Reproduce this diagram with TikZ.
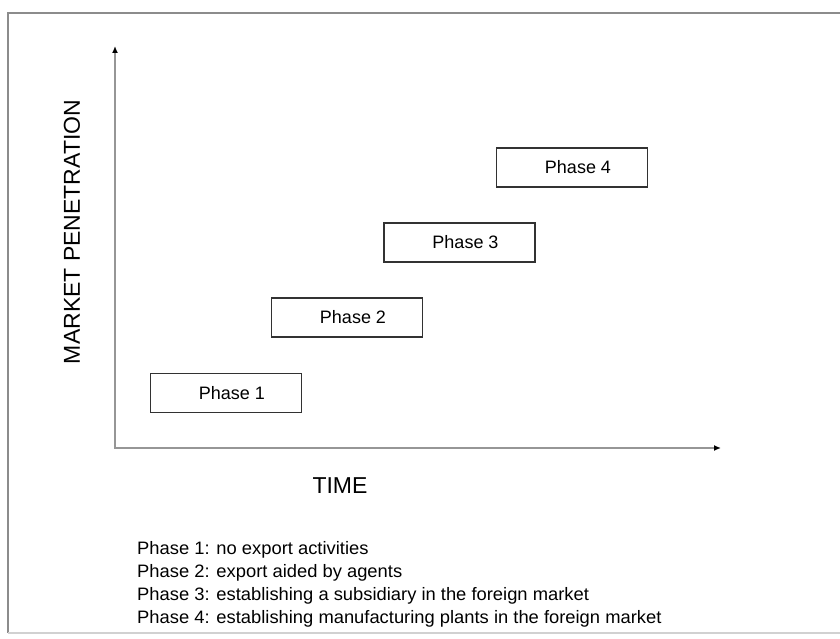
\documentclass[tikz,border=0pt]{standalone}
\usepackage{fontspec}
\setmainfont{Liberation Sans}
\newfontfamily\legendfont[FakeStretch=1.02]{Liberation Sans}
\usetikzlibrary{arrows.meta}
\definecolor{axisgray}{RGB}{150,150,150}
\definecolor{boxgray}{RGB}{50,50,50}
\definecolor{framegray}{RGB}{140,140,140}
\begin{document}
\begin{tikzpicture}[x=1pt,y=-1pt,
		phasebox/.style={draw=boxgray,line width=1.8pt,minimum width=151pt,minimum height=39pt,inner sep=0pt,font=\fontsize{18}{20}\selectfont},
		axislabel/.style={font=\fontsize{23}{25}\selectfont},
		legendline/.style={anchor=base west,inner sep=0pt,font=\legendfont\fontsize{18}{20}\selectfont}]
				\useasboundingbox (0,0) rectangle (840,639);
				% Draw frame
				\draw [framegray,line width=1.6pt] (840,13) -- (8,13) -- (8,633);
				\draw [framegray!40,line width=1.2pt] (8,633) -- (840,633);
				% Draw axes
				\coordinate (ytop) at (115,46);
				\coordinate (xend) at (721,448);
				\draw [axisgray,line width=1.8pt,{Latex[length=7pt,width=6pt,black]}-{Latex[length=7pt,width=6pt,black]}] (ytop) |- (xend);
				\node[axislabel,rotate=90] (mp) at (72,232) {MARKET PENETRATION};
				\node[axislabel] (time) at (340,486) {TIME};
				% Draw phases
				\node[phasebox] (ph1) at (226,393) {\hspace*{12pt}Phase 1};
				\node[phasebox] (ph2) at (347,317.5) {\hspace*{12pt}Phase 2};
				\node[phasebox] (ph3) at (459.5,242.5) {\hspace*{12pt}Phase 3};
				\node[phasebox] (ph4) at (572,167.5) {\hspace*{12pt}Phase 4};

				\node[legendline] (leg1) at (137,554) {Phase 1: no export activities};
				\node[legendline] (leg2) at (137,577) {Phase 2: export aided by agents};
				\node[legendline] (leg3) at (137,600) {Phase 3: establishing a subsidiary in the foreign market};
				\node[legendline] (leg4) at (137,623) {Phase 4: establishing manufacturing plants in the foreign market};
\end{tikzpicture}
\end{document}
